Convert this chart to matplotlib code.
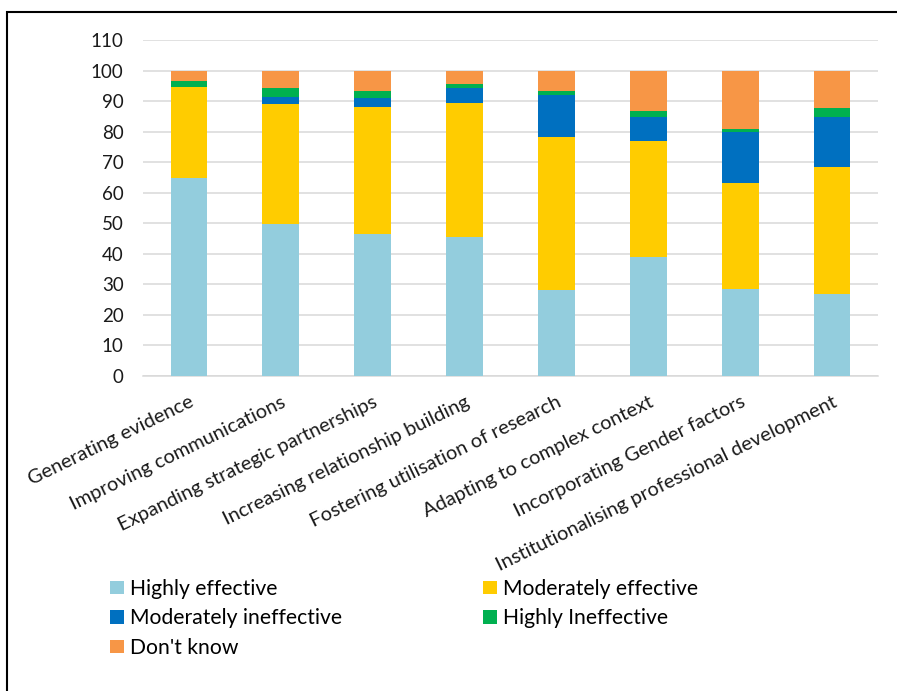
import matplotlib
matplotlib.use("Agg")
import matplotlib.pyplot as plt
from matplotlib.patches import Patch, Rectangle
from matplotlib.transforms import ScaledTranslation
import numpy as np

plt.rcParams['font.family'] = ['Lato', 'DejaVu Sans']

categories = [
    "Generating evidence",
    "Improving communications",
    "Expanding strategic partnerships",
    "Increasing relationship building",
    "Fostering utilisation of research",
    "Adapting to complex context",
    "Incorporating Gender factors",
    "Institutionalising professional development",
]

highly_effective = [64.9, 49.8, 46.5, 45.6, 28.0, 38.9, 28.6, 26.8]
moderately_effective = [29.7, 39.4, 41.5, 43.7, 50.1, 38.1, 34.6, 41.5]
moderately_ineffective = [0.0, 2.2, 3.1, 5.1, 14.0, 7.7, 16.8, 16.4]
highly_ineffective = [2.1, 3.0, 2.3, 1.3, 1.3, 2.0, 1.0, 3.2]
dont_know = [3.3, 5.6, 6.6, 4.3, 6.6, 13.3, 19.0, 12.1]

series = [
    ("Highly effective", highly_effective, "#93CDDD"),
    ("Moderately effective", moderately_effective, "#FFCC00"),
    ("Moderately ineffective", moderately_ineffective, "#0070C0"),
    ("Highly Ineffective", highly_ineffective, "#00B050"),
    ("Don't know", dont_know, "#F79646"),
]

yticks = list(range(0, 111, 10))

W, H = 897, 691
fig = plt.figure(figsize=(W / 100, H / 100), dpi=100)
ax = fig.add_axes([143 / W, (H - 376) / H, (878 - 143) / W, (376 - 40) / H])

x = np.arange(len(categories))
bottom = np.zeros(len(categories))
handles = {}
for name, vals, color in series:
    vals = np.array(vals)
    ax.bar(x, vals, width=0.4, bottom=bottom, color=color, linewidth=0, zorder=3)
    handles[name] = Patch(facecolor=color, edgecolor='none')
    bottom += vals

ax.set_xlim(-0.5, len(categories) - 0.5)
ax.set_ylim(0, 110)
ax.set_yticks(yticks)
ax.set_yticklabels([str(t) for t in yticks], fontsize=13.5, color="#1a1a1a")
ax.tick_params(axis='y', length=0, pad=14)
ax.tick_params(axis='x', length=0)
ax.yaxis.grid(True, color="#D9D9D9", linewidth=1.1, zorder=0)
ax.set_axisbelow(True)
for side in ['left', 'right', 'top']:
    ax.spines[side].set_visible(False)
ax.spines['bottom'].set_color("#D9D9D9")
ax.spines['bottom'].set_linewidth(1.1)

ax.set_xticks(x)
ax.set_xticklabels([])
offset = ScaledTranslation(4 / 100, -25 / 100, fig.dpi_scale_trans)
for xi, label in zip(x, categories):
    ax.text(xi, 0, label, rotation=26, rotation_mode='anchor', ha='right', va='center',
            fontsize=14.4, color="#1a1a1a",
            transform=ax.get_xaxis_transform() + offset)

# legend in two columns, filled row by row
col1 = ["Highly effective", "Moderately ineffective", "Don't know"]
col2 = ["Moderately effective", "Highly Ineffective"]
leg_kw = dict(loc='upper left', frameon=False, fontsize=15.2, borderpad=0, borderaxespad=0,
              handlelength=0.66, handleheight=0.62, handletextpad=0.28, labelspacing=0.45)
leg1 = fig.legend([handles[n] for n in col1], col1,
                  bbox_to_anchor=(110 / W, (H - 579) / H), **leg_kw)
leg2 = fig.legend([handles[n] for n in col2], col2,
                  bbox_to_anchor=(483 / W, (H - 579) / H), **leg_kw)

# chart area frame
fig.add_artist(Rectangle((7 / W, -0.02), 1.1, (H - 11.5) / H + 0.02, transform=fig.transFigure,
                         fill=False, edgecolor='black', linewidth=1.5, clip_on=False))

fig.savefig("out.png", dpi=100)
